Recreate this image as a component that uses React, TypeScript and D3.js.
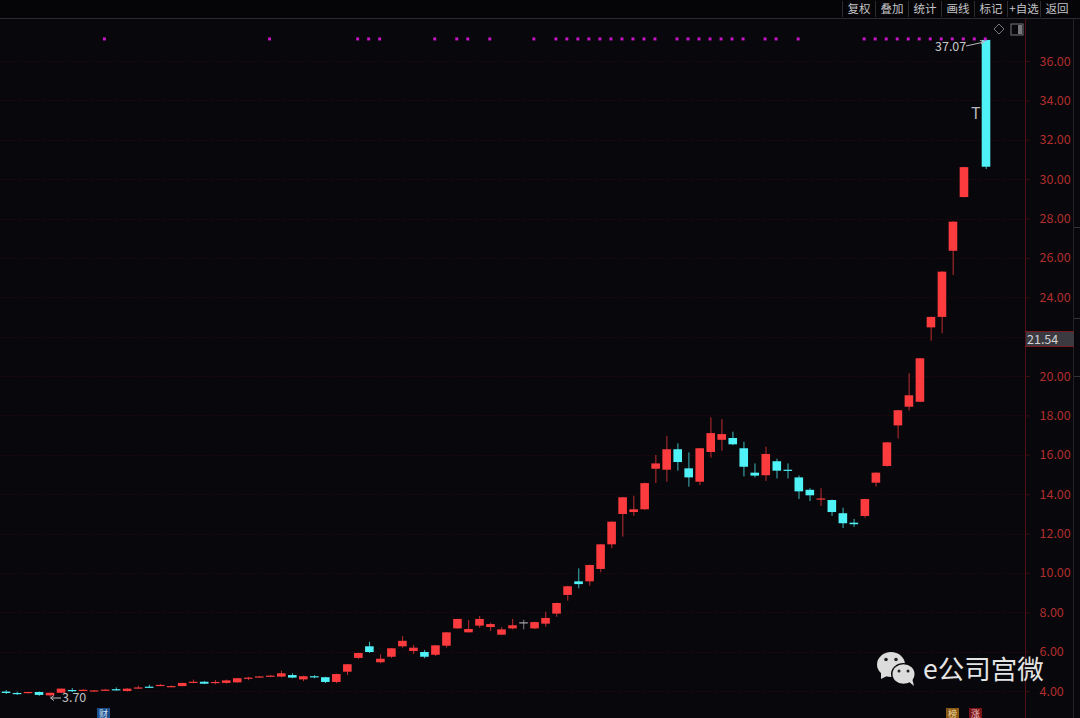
import { useEffect, useRef } from "react";
import * as d3 from "d3";

// Candle values, oldest first. null = the empty slot before the last candle.
const opens = [3.97,3.90,3.89,3.95,3.78,3.91,4.05,4.03,3.99,4.03,4.09,4.00,4.15,4.22,4.27,4.22,4.25,4.43,4.47,4.43,4.41,4.44,4.65,4.71,4.74,4.73,4.81,4.59,4.75,4.70,
  4.46,4.98,5.68,6.27,5.46,5.74,6.27,6.03,5.98,5.84,6.30,7.18,6.98,7.32,7.25,6.86,7.18,7.49,7.18,7.42,7.93,8.88,9.57,9.57,10.20,11.45,12.99,13.09,13.23,15.29,
  15.24,16.28,15.31,14.63,16.14,16.76,16.85,16.33,15.09,14.96,15.67,15.24,14.85,14.22,13.76,13.70,13.03,12.55,12.89,14.58,15.43,17.49,18.44,18.69,22.47,23.00,26.36,29.09,null,37.07];
const closes = [3.90,3.85,3.95,3.80,3.91,4.12,4.00,4.06,4.03,4.07,4.05,4.12,4.18,4.18,4.31,4.25,4.41,4.47,4.37,4.46,4.54,4.65,4.68,4.74,4.78,4.90,4.68,4.75,4.71,4.46,
  4.86,5.36,5.93,5.98,5.64,6.17,6.55,6.20,5.74,6.32,6.98,7.66,7.15,7.66,7.40,7.13,7.34,7.49,7.50,7.71,8.47,9.32,9.43,10.40,11.45,12.60,13.84,13.23,14.56,15.56,
  16.28,15.63,14.85,16.33,17.10,17.05,16.53,15.39,14.94,16.04,15.19,15.21,14.14,13.94,13.78,13.09,12.52,12.47,13.75,15.09,16.63,18.26,19.02,20.90,23.00,25.30,27.84,30.61,null,30.63];
const highs = [4.05,3.97,3.96,3.97,3.91,4.13,4.15,4.10,4.05,4.10,4.18,4.14,4.27,4.32,4.36,4.28,4.42,4.58,4.50,4.56,4.58,4.66,4.72,4.76,4.80,5.03,4.90,4.77,4.80,4.72,
  4.88,5.37,5.95,6.50,5.86,6.19,6.79,6.34,6.08,6.34,7.00,7.67,7.61,7.81,7.47,7.24,7.66,7.62,7.52,8.03,8.49,9.34,10.23,10.42,11.47,12.62,13.86,13.92,14.58,15.99,
  16.95,16.58,16.12,16.35,17.90,17.81,17.17,16.66,15.56,16.41,15.80,15.56,14.95,14.30,14.30,13.73,13.31,12.74,13.77,15.11,16.65,18.28,20.14,20.92,23.02,25.32,27.86,30.63,null,37.07];
const lows = [3.85,3.80,3.87,3.75,3.70,3.90,3.95,4.00,3.97,4.01,4.02,3.97,4.12,4.15,4.25,4.20,4.24,4.39,4.35,4.34,4.38,4.42,4.55,4.69,4.72,4.70,4.66,4.50,4.65,4.40,
  4.40,4.81,5.63,5.93,5.41,5.68,6.20,5.88,5.66,5.78,6.20,7.16,6.97,7.21,7.05,6.84,7.13,7.13,7.15,7.27,7.77,8.59,9.22,9.35,10.03,11.25,11.84,12.90,13.20,14.56,
  14.63,15.19,14.38,14.46,15.85,16.20,16.49,14.90,14.85,14.67,14.80,14.80,13.75,13.65,13.40,12.89,12.28,12.34,12.80,14.38,15.40,16.83,18.24,18.67,21.79,22.17,25.13,29.07,null,30.51];

// candles carrying a magenta marker in the top row
const signalIdx = [9,24,32,33,34,39,41,42,44,48,50,51,52,53,54,55,56,57,58,59,61,62,63,64,65,66,67,69,70,72,78,79,80,81,82,83,84,85,86,87,88,89];
const priceTicks = [4,6,8,10,12,14,16,18,20,24,26,28,30,32,34,36];
const gridPrices = [4,6,8,10,12,14,16,18,20,22,24,26,28,30,32,34,36];
const toolButtons = ["复权","叠加","统计","画线","标记","+自选","返回"];
const lastPrice = 21.54;
const highLabel = 37.07;
const lowLabel = 3.70;
const signalPrice = 37.12;

const RED = "#fb3b3e";
const CYAN = "#4ff3f7";
const BG = "#08070b";
const FONT = "'Noto Sans CJK SC', 'Open Sans', sans-serif";

export default function App() {
  const ref = useRef<SVGSVGElement>(null);

  useEffect(() => {
    if (!ref.current) return;
    document.body.style.margin = "0";
    document.body.style.background = BG;

    const svg = d3.select(ref.current);
    svg.selectAll("*").remove();

    const width = 1080;
    const height = 718;
    const axisX = 1025;

    svg.append("rect").attr("width", width).attr("height", height).attr("fill", BG);

    const y = d3.scaleLinear().domain([4, 36]).range([691, 61]);
    const x = d3.scalePoint<number>().domain(d3.range(opens.length)).range([6, 986]);
    const bodyW = 8.6;

    // horizontal dotted grid
    svg
      .append("g")
      .selectAll("line")
      .data(gridPrices)
      .enter()
      .append("line")
      .attr("x1", 0)
      .attr("x2", axisX)
      .attr("y1", (d) => Math.round(y(d)) + 0.5)
      .attr("y2", (d) => Math.round(y(d)) + 0.5)
      .attr("stroke", "#2a0a0f")
      .attr("stroke-width", 1)
      .attr("stroke-dasharray", "1,2");

    // price axis
    const axis = svg
      .append("g")
      .attr("transform", `translate(${axisX + 0.5},0)`)
      .call(d3.axisRight(y).tickValues(priceTicks).tickFormat(d3.format(".2f")).tickSize(4).tickPadding(10));
    axis.select(".domain").remove();
    axis.selectAll(".tick line").attr("stroke", "#3c0e12");
    axis
      .selectAll(".tick text")
      .attr("fill", "#b02e2e")
      .style("font-size", "12.5px")
      .style("font-family", FONT);

    svg
      .append("line")
      .attr("x1", axisX + 0.5)
      .attr("x2", axisX + 0.5)
      .attr("y1", 19)
      .attr("y2", height)
      .attr("stroke", "#4e1014");
    svg
      .append("line")
      .attr("x1", 1073.5)
      .attr("x2", 1073.5)
      .attr("y1", 19)
      .attr("y2", height)
      .attr("stroke", "#222226");
    [227, 318, 376].forEach((ty) =>
      svg
        .append("line")
        .attr("x1", 1074)
        .attr("x2", 1080)
        .attr("y1", ty + 0.5)
        .attr("y2", ty + 0.5)
        .attr("stroke", "#333337")
    );

    // last price box, sits a little above its scale position in the reference
    const lastY = 339;
    svg
      .append("rect")
      .attr("x", axisX + 1)
      .attr("y", lastY - 7.5)
      .attr("width", 48)
      .attr("height", 15)
      .attr("fill", "#3b3a40");
    [lastY - 7.5, lastY + 7.5].forEach((ly) =>
      svg
        .append("line")
        .attr("x1", axisX)
        .attr("x2", 1074)
        .attr("y1", ly)
        .attr("y2", ly)
        .attr("stroke", "#7a1a1e")
    );
    svg
      .append("text")
      .attr("x", 1027)
      .attr("y", lastY + 4.5)
      .attr("fill", "#d4d4d8")
      .style("font-size", "12.5px")
      .style("font-family", FONT)
      .text(lastPrice.toFixed(2));

    // candles
    const candles = d3.range(opens.length).filter((i) => opens[i] !== null);
    const colorOf = (i: number) => {
      const o = opens[i] as number;
      const c = closes[i] as number;
      if (c > o) return RED;
      if (c < o) return CYAN;
      return "#a8a8a8";
    };
    const g = svg.append("g");
    g.selectAll(".wick")
      .data(candles)
      .enter()
      .append("line")
      .attr("class", "wick")
      .attr("x1", (i) => (x(i) as number) + 0.2)
      .attr("x2", (i) => (x(i) as number) + 0.2)
      .attr("y1", (i) => y(highs[i] as number))
      .attr("y2", (i) => y(lows[i] as number))
      .attr("stroke", (i) => colorOf(i))
      .attr("stroke-opacity", 0.75)
      .attr("stroke-width", 1);
    g.selectAll(".body")
      .data(candles)
      .enter()
      .append("rect")
      .attr("class", "body")
      .attr("x", (i) => (x(i) as number) - bodyW / 2)
      .attr("y", (i) => y(Math.max(opens[i] as number, closes[i] as number)))
      .attr("width", bodyW)
      .attr("height", (i) =>
        Math.max(1.2, Math.abs(y(opens[i] as number) - y(closes[i] as number)))
      )
      .attr("fill", (i) => colorOf(i));

    // marker row
    svg
      .append("g")
      .selectAll("rect")
      .data(signalIdx)
      .enter()
      .append("rect")
      .attr("x", (i) => (x(i) as number) - 2.2)
      .attr("y", y(signalPrice) - 1.5)
      .attr("width", 3)
      .attr("height", 3)
      .attr("fill", "#c814c8");

    // high / low annotations
    svg
      .append("text")
      .attr("x", 935)
      .attr("y", 51)
      .attr("fill", "#c8c8cc")
      .style("font-size", "12.5px")
      .style("font-family", FONT)
      .text(highLabel.toFixed(2));
    svg
      .append("path")
      .attr("d", "M966,46 L984,42 M980,40.5 L985,41.5 L981,44")
      .attr("fill", "none")
      .attr("stroke", "#b8b8bc");
    svg
      .append("text")
      .attr("x", 62)
      .attr("y", 702)
      .attr("fill", "#c0c0c4")
      .style("font-size", "12.5px")
      .style("font-family", FONT)
      .text(lowLabel.toFixed(2));
    svg
      .append("path")
      .attr("d", "M51,698 L61,698 M54,695.5 L50.5,698 L54,700.5")
      .attr("fill", "none")
      .attr("stroke", "#c0c0c4");
    svg
      .append("text")
      .attr("x", 971)
      .attr("y", 119)
      .attr("fill", "#b8b8bc")
      .style("font-size", "16px")
      .style("font-family", FONT)
      .text("T");

    // toolbar
    svg.append("rect").attr("width", width).attr("height", 18).attr("fill", "#050507");
    svg
      .append("line")
      .attr("x1", 0)
      .attr("x2", width)
      .attr("y1", 18.5)
      .attr("y2", 18.5)
      .attr("stroke", "#2c2c30");
    const btnCenters = d3.scalePoint<string>().domain(toolButtons).range([859, 1057]);
    svg
      .append("g")
      .selectAll("text")
      .data(toolButtons)
      .enter()
      .append("text")
      .attr("x", (d) => btnCenters(d) as number)
      .attr("y", 13)
      .attr("text-anchor", "middle")
      .attr("fill", "#c4c4c8")
      .style("font-size", "11.5px")
      .style("font-family", FONT)
      .text((d) => d);
    svg
      .append("g")
      .selectAll("line")
      .data(toolButtons)
      .enter()
      .append("line")
      .attr("x1", (d) => (btnCenters(d) as number) - 16.5)
      .attr("x2", (d) => (btnCenters(d) as number) - 16.5)
      .attr("y1", 1)
      .attr("y2", 17)
      .attr("stroke", "#2c2c30");

    // small chart icons
    svg
      .append("path")
      .attr("d", "M999,24 L1004,29 L999,34 L994,29 Z")
      .attr("fill", "none")
      .attr("stroke", "#77777b");
    svg
      .append("rect")
      .attr("x", 1011)
      .attr("y", 24)
      .attr("width", 12)
      .attr("height", 11)
      .attr("fill", "none")
      .attr("stroke", "#77777b");
    svg.append("rect").attr("x", 1018).attr("y", 25).attr("width", 4).attr("height", 9).attr("fill", "#77777b");

    // badges on the bottom edge, shrunk so the glyphs stay inside the picture
    const badges = [
      { x: 97, w: 13, t: "财", fill: "#1c4f8c", color: "#cfe0f5" },
      { x: 946, w: 13, t: "榜", fill: "#8a5a14", color: "#f0d8a0" },
      { x: 969, w: 13, t: "涨", fill: "#7a1418", color: "#f0c0c0" },
    ];
    badges.forEach((b) => {
      svg.append("rect").attr("x", b.x).attr("y", 708).attr("width", b.w).attr("height", 10).attr("fill", b.fill);
      svg
        .append("text")
        .attr("x", b.x + b.w / 2)
        .attr("y", 716.5)
        .attr("text-anchor", "middle")
        .attr("fill", b.color)
        .style("font-size", "9px")
        .style("font-family", FONT)
        .text(b.t);
    });

    // watermark
    const mark = svg.append("g");
    const ICON = "#dcdcdc";
    mark.append("ellipse").attr("cx", 891).attr("cy", 664.5).attr("rx", 14).attr("ry", 12.5).attr("fill", ICON);
    mark.append("path").attr("d", "M881,672 L881,679 L889,675 Z").attr("fill", ICON);
    mark.append("ellipse").attr("cx", 903.5).attr("cy", 674).attr("rx", 12.5).attr("ry", 11).attr("fill", BG);
    mark.append("ellipse").attr("cx", 903.5).attr("cy", 674).attr("rx", 11).attr("ry", 9.8).attr("fill", ICON);
    mark.append("path").attr("d", "M908,681 L914,686 L912,678 Z").attr("fill", ICON);
    [
      [886, 659.5, 1.8],
      [896, 659.5, 1.8],
      [899, 671, 1.5],
      [908, 671, 1.5],
    ].forEach(([cx, cy, r]) => mark.append("circle").attr("cx", cx).attr("cy", cy).attr("r", r).attr("fill", "#222"));
    mark
      .append("text")
      .attr("x", 923)
      .attr("y", 679)
      .attr("fill", "#e4e4e4")
      .style("font-size", "26.5px")
      .style("font-family", FONT)
      .text("e公司宫微");
  }, []);

  return (
    <svg
      ref={ref}
      width={1080}
      height={718}
      style={{ position: "absolute", left: 0, top: 0, display: "block" }}
    />
  );
}
